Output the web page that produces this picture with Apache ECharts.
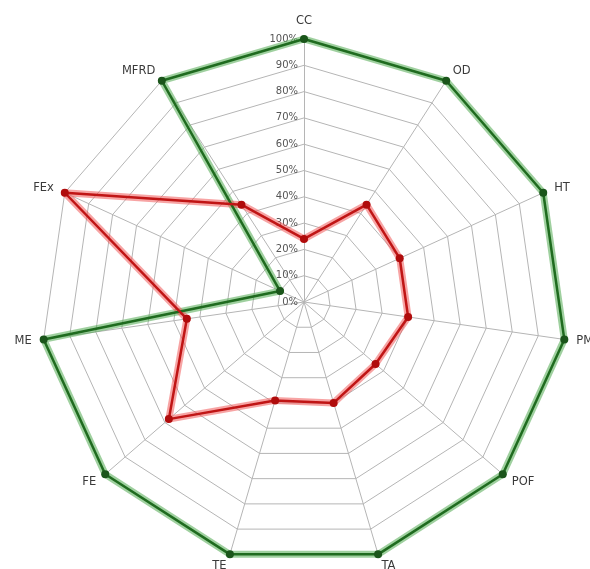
<!DOCTYPE html>
<html>
<head>
<meta charset="utf-8">
<script src="https://cdn.jsdelivr.net/npm/echarts@6/dist/echarts.min.js"></script>
<style>html,body{margin:0;padding:0;background:#fff;}#chart{width:590px;height:569px;}</style>
</head>
<body>
<div id="chart"></div>
<script>
// Categories in clockwise order starting at top
var categories = ['CC', 'OD', 'HT', 'PM', 'POF', 'TA', 'TE', 'FE', 'ME', 'FEx', 'MFRD'];
var greenValues = [100, 100, 100, 100, 100, 100, 100, 100, 100, 10, 100];
var redValues = [24, 44, 40, 40, 36, 40, 39, 68, 45, 100, 44];
var axisMax = 100;
var axisStep = 10;

// ECharts radar places indicators counter-clockwise; reorder to get clockwise
function ccw(arr) { return [arr[0]].concat(arr.slice(1).reverse()); }

var indicators = ccw(categories).map(function (name, i) {
  var ind = { name: name, min: 0, max: axisMax };
  if (i === 0) {
    ind.axisLabel = {
      show: true, color: '#555', fontSize: 10, margin: 6,
      fontFamily: 'DejaVu Sans',
      formatter: function (v) { return v + '%'; }
    };
  }
  return ind;
});

function layer(values, lineColor, width, symbol, symColor, z) {
  return {
    type: 'radar', z: z,
    symbol: symbol ? 'circle' : 'none',
    symbolSize: 8,
    itemStyle: { color: symColor },
    lineStyle: { color: lineColor, width: width },
    areaStyle: null,
    data: [{ value: ccw(values) }],
    silent: true, animation: false
  };
}

var chart = echarts.init(document.getElementById('chart'), null, { renderer: 'canvas' });
chart.setOption({
  animation: false,
  radar: {
    center: [304, 302],
    radius: 263,
    startAngle: 90,
    splitNumber: axisMax / axisStep,
    shape: 'polygon',
    indicator: indicators,
    nameGap: 12,
    axisName: { color: '#3a3a3a', fontSize: 11.5, fontFamily: 'DejaVu Sans' },
    axisLine: { lineStyle: { color: '#b5b5b5', width: 1 } },
    splitLine: { lineStyle: { color: '#b5b5b5', width: 1 } },
    splitArea: { show: false },
    axisTick: { show: false },
    axisLabel: { show: false }
  },
  series: [
    layer(greenValues, 'rgba(80,170,80,0.55)', 7, false, '#1c5e1c', 2),
    layer(redValues, 'rgba(240,90,90,0.55)', 7, false, '#a00', 2),
    layer(greenValues, '#1f6b1f', 2.5, true, '#1a551a', 3),
    layer(redValues, '#c01515', 2.5, true, '#b00c0c', 3)
  ]
});
</script>
</body>
</html>
